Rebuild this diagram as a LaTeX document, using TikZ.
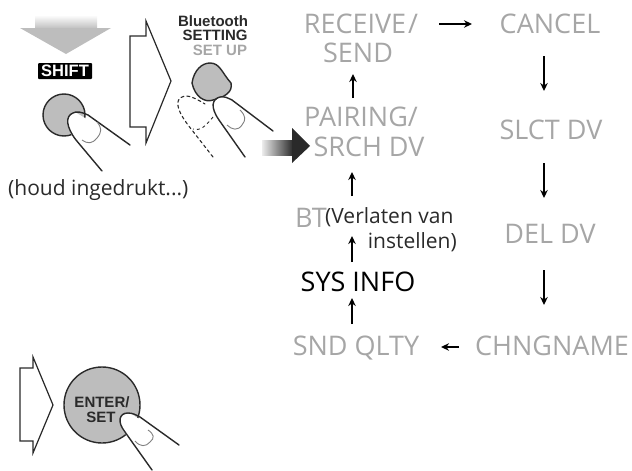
\documentclass[tikz,border=0pt]{standalone}
\usepackage{fontspec}
\setmainfont{Open Sans}
\newfontfamily\btnfont{Liberation Sans}
\definecolor{menugray}{HTML}{A6A6A6}
\definecolor{btngray}{HTML}{BDBDBD}
\definecolor{inkdark}{HTML}{2A2A2A}
\usetikzlibrary{arrows.meta,calc}
\tikzset{
  menu/.style={font=\fontsize{27}{30}\selectfont, text=menugray, inner sep=0pt, text height=20pt, text depth=0pt, anchor=center},
  menudark/.style={menu, text=black},
  note/.style={font=\fontsize{21}{23}\selectfont, text=inkdark, inner sep=0pt},
  conn/.style={draw=black, line width=1.5pt, -{Stealth[length=8pt,width=7.5pt]}},
  hollow/.style={draw=inkdark, line width=1.2pt, fill=white, line join=miter},
  btn/.style={draw=inkdark, line width=1.4pt, fill=btngray},
  finger/.style={draw=inkdark, line width=1.4pt, line cap=round},
  nail/.style={draw=gray, line width=.9pt},
  btnlabel/.style={font=\btnfont\bfseries\fontsize{15}{17}\selectfont, inner sep=0pt},
}
\begin{document}
\begin{tikzpicture}[x=1pt,y=-1pt]
\useasboundingbox (0,0) rectangle (632,471);
% big gray arrow
\shade[top color=white, bottom color=btngray, shading angle=0] (35,15) rectangle (97,29);
\fill[btngray] (20,28) -- (111,28) -- (66,54) -- cycle;
% shift
\node[fill=black, text=white, btnlabel, font=\btnfont\bfseries\fontsize{16.5}{18}\selectfont, minimum width=54pt, minimum height=16pt, rounded corners=1pt] (shift) at (65,71) {SHIFT};
\node[btn, circle, minimum size=42pt, inner sep=0pt] (btnA) at (64,115) {};
\path[fill=white] (102,171) -- (73,137) .. controls (66,127) and (66,116) .. (75,112) -- (130,145) -- cycle;
\draw[finger] (102,171) -- (76,140) .. controls (66,127) and (65,116) .. (73,113) .. controls (76,111) and (82,112) .. (88,115) -- (130,145);
\draw[nail] (97,122) .. controls (102,128) and (102,132) .. (97,138) .. controls (92,144) and (88,144) .. (82,140);
% hollow arrow 1
\draw[hollow] (130,36) -- (146,36) -- (146,21) -- (171,81) -- (146,143) -- (146,127) -- (130,127) -- cycle;
% bluetooth labels
\node[btnlabel, text=inkdark] (btA) at (213,21) {Bluetooth};
\node[btnlabel, text=inkdark] (btB) at (215,35) {SETTING};
\node[btnlabel, text=menugray] (btC) at (220,50) {SET UP};
% dashed finger
\draw[finger, dashed, line width=1.1pt] (213,157) -- (188,125) .. controls (179,113) and (175,103) .. (180,98) .. controls (185,94) and (192,96) .. (205,104);
\draw[nail, dashed, draw=inkdark] (213,117) .. controls (205,127) and (200,131) .. (193,129);
% blob
\draw[btn] (192,83) .. controls (194,70) and (202,63) .. (210,63) .. controls (220,63) and (222,73) .. (231,83) .. controls (233,92) and (225,97) .. (213,100) .. controls (205,103) and (195,97) .. (192,83) -- cycle;
\path[fill=white] (245,157) -- (217,117) .. controls (210,104) and (215,98) .. (222,97) -- (273,131) -- cycle;
\draw[finger] (245,157) -- (219,120) .. controls (210,107) and (212,99) .. (220,97) .. controls (224,96) and (228,98) .. (232,100) -- (273,131);
\draw[nail] (240,110) .. controls (246,116) and (246,120) .. (242,125) .. controls (238,131) and (232,130) .. (227,125);
% dark arrow
\shade[left color=white!85!gray, right color=inkdark] (262,140) rectangle (293,155);
\fill[inkdark] (292,128) -- (310,146) -- (292,163) -- cycle;
% note
\node[note, anchor=west] (hold) at (8,190) {(houd ingedrukt...)};
% flow
\node[menu] (recv) at (361,23) {RECEIVE\kern2pt/};
\node[menu] (send) at (358,52) {SEND};
\node[menu] (cancel) at (550,24) {CANCEL};
\node[menu] (slct) at (551,129) {SLCT DV};
\node[menu] (del) at (550,233) {DEL DV};
\node[menu] (chng) at (552,345) {CHNGNAME};
\node[menu] (snd) at (356,345) {SND QLTY};
\node[menudark] (sys) at (358,281) {SYS INFO};
\node[menu, anchor=west] (bt) at (295,217) {BT};
\node[note, anchor=west] (verl) at (325,217) {(Verlaten van};
\node[note, anchor=east] (inst) at (457,242) {instellen)};
\node[menu] (pair) at (361,116) {PAIRING/};
\node[menu] (srch) at (369,146) {SRCH DV};
\draw[conn] ([xshift=78pt,yshift=-1pt]recv.center) -- ([xshift=-78pt]cancel.center);
\draw[conn] ([xshift=-6pt,yshift=-32pt]cancel.center) -- ([xshift=-6pt,yshift=38pt]cancel.center |- slct.center);
\draw[conn] ([xshift=-7pt,yshift=-34pt]slct.center) -- ([xshift=-7pt,yshift=35pt]slct.center |- del.center);
\draw[conn] ([xshift=-6pt,yshift=-37pt]del.center) -- ([xshift=-6pt,yshift=40pt]del.center |- chng.center);
\draw[conn] ([xshift=-93pt,yshift=-2pt]chng.center) -- ([xshift=85pt,yshift=-2pt]snd.center);
\draw[conn] ([xshift=-4pt,yshift=21pt]snd.center) -- ([xshift=-6pt,yshift=-17pt]sys.center);
\draw[conn] ([xshift=-6pt,yshift=19pt]sys.center) -- ([xshift=57pt,yshift=-19pt]bt.west);
\draw[conn] ([xshift=57pt,yshift=21pt]bt.west) -- ([xshift=-17pt,yshift=-26pt]srch.center);
\draw[conn] ([xshift=-8pt,yshift=18pt]pair.center) -- ([xshift=-5pt,yshift=-22pt]send.center);
% enter
\draw[hollow] (20,368) -- (33,368) -- (33,357) -- (53,405) -- (33,453) -- (33,441) -- (20,441) -- cycle;
\node[btn, circle, minimum size=76pt, inner sep=0pt] (btnB) at (102,405) {};
\node[btnlabel, text=inkdark] (enterA) at (102,402) {ENTER/};
\node[btnlabel, text=inkdark] (enterB) at (101,417) {SET};
\path[fill=white] (152,470) -- (124,432) .. controls (117,422) and (120,413) .. (130,413) -- (179,445) -- cycle;
\draw[finger] (152,470) -- (125,432) .. controls (117,422) and (119,413) .. (128,413) .. controls (133,413) and (136,415) .. (140,417) -- (179,445);
\draw[nail] (148,430) .. controls (154,434) and (155,438) .. (150,442) .. controls (146,447) and (140,447) .. (135,441);
\end{tikzpicture}
\end{document}
